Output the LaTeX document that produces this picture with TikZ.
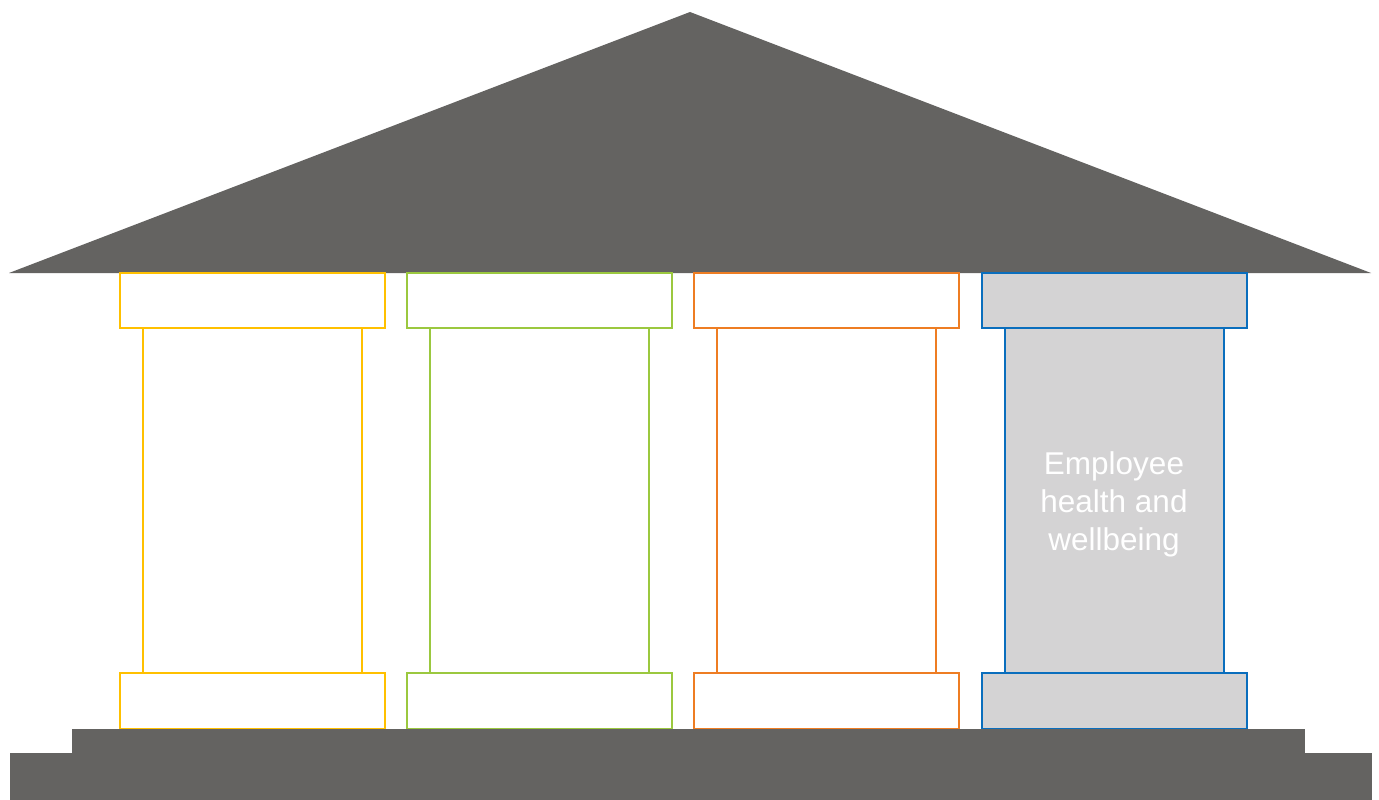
\documentclass[tikz,border=0pt]{standalone}
\usepackage{fontspec}
\setmainfont{Liberation Sans}
\definecolor{roofgrey}{HTML}{646361}
\definecolor{pillargrey}{HTML}{D4D3D4}
\definecolor{cyellow}{HTML}{FFC000}
\definecolor{cgreen}{HTML}{9BC83F}
\definecolor{corange}{HTML}{EE7D23}
\definecolor{cblue}{HTML}{0A6EBD}
\tikzset{
  pillarline/.style={line width=2.7pt},
}
\newcommand{\pillar}[3]{% x-left, colour, fill
  \filldraw[pillarline,draw=#2,fill=#3] (#1+23,328) rectangle (#1+242,673);
  \filldraw[pillarline,draw=#2,fill=#3] (#1,273) rectangle (#1+265,328);
  \filldraw[pillarline,draw=#2,fill=#3] (#1,673) rectangle (#1+265,729);
}
\begin{document}
\begin{tikzpicture}[x=1pt,y=-1pt]
\useasboundingbox (0,0) rectangle (1379,800);
\fill[white] (0,0) rectangle (1379,800);
% roof
\fill[roofgrey] (690,12) -- (1371,273) -- (9,273) -- cycle;
% pillars
\pillar{120}{cyellow}{white}
\pillar{407}{cgreen}{white}
\pillar{694}{corange}{white}
\pillar{982}{cblue}{pillargrey}
% base steps
\fill[roofgrey] (72,729) rectangle (1305,754);
\fill[roofgrey] (10,753) rectangle (1372,800);
% text
\node[text=white,align=center,font=\fontsize{31.5}{38}\selectfont] (label4) at (1114,504) {Employee\\health and\\wellbeing};
\end{tikzpicture}
\end{document}
